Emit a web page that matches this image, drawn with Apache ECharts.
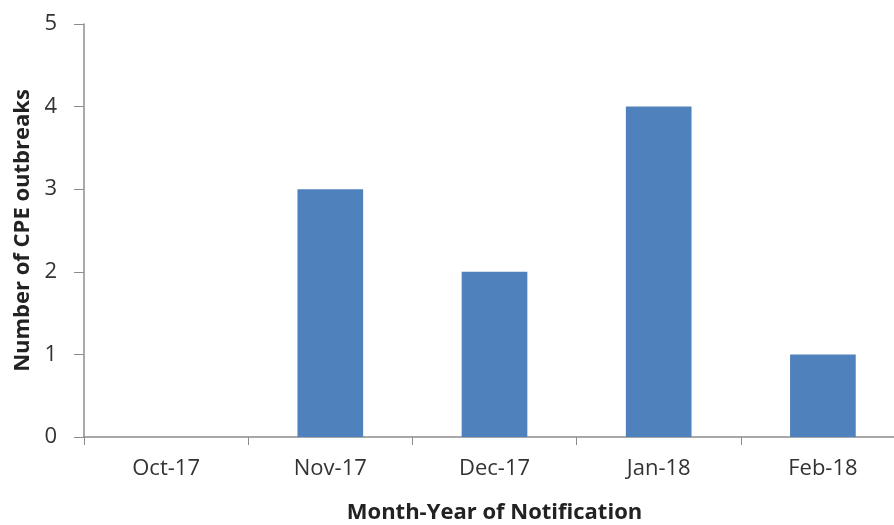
<!DOCTYPE html>
<html><head><meta charset="utf-8">
<script src="https://cdn.jsdelivr.net/npm/echarts@6/dist/echarts.min.js"></script>
<style>html,body{margin:0;padding:0;background:#fff}#c{width:894px;height:525px}</style>
</head><body><div id="c"></div>
<script>
var categories = ['Oct-17', 'Nov-17', 'Dec-17', 'Jan-18', 'Feb-18'];
var outbreaks = [0, 3, 2, 4, 1];
var yTicks = [0, 1, 2, 3, 4, 5];

var chart = echarts.init(document.getElementById('c'));
chart.setOption({
  animation: false,
  grid: { left: 84, top: 24, width: 821, height: 413, containLabel: false, outerBoundsMode: 'none' },
  xAxis: {
    type: 'category',
    data: categories,
    name: 'Month-Year of Notification',
    nameLocation: 'middle',
    nameGap: 65,
    nameTextStyle: { fontFamily: 'Open Sans', fontSize: 22, fontWeight: 'bold', color: '#222' },
    axisLine: { lineStyle: { color: '#8c8c8c', width: 1.5 } },
    axisTick: { show: true, length: 8, alignWithLabel: false, lineStyle: { color: '#8c8c8c' } },
    axisLabel: { fontFamily: 'Open Sans', fontSize: 22, color: '#333', margin: 21 }
  },
  yAxis: {
    type: 'value',
    min: 0, max: 5, interval: 1,
    name: 'Number of CPE outbreaks',
    nameLocation: 'middle',
    nameGap: 50,
    nameRotate: 90,
    nameTextStyle: { fontFamily: 'Open Sans', fontSize: 22, fontWeight: 'bold', color: '#222' },
    axisLine: { show: true, lineStyle: { color: '#8c8c8c', width: 1.5 } },
    axisTick: { show: true, length: 10, lineStyle: { color: '#8c8c8c' } },
    axisLabel: { fontFamily: 'Open Sans', fontSize: 22, color: '#333', margin: 27,
      formatter: function (v) { return yTicks.indexOf(v) >= 0 ? String(v) : ''; } },
    splitLine: { show: false }
  },
  series: [{
    type: 'bar',
    data: outbreaks,
    barWidth: '40%',
    itemStyle: { color: '#4f81bd' }
  }]
});
</script></body></html>
